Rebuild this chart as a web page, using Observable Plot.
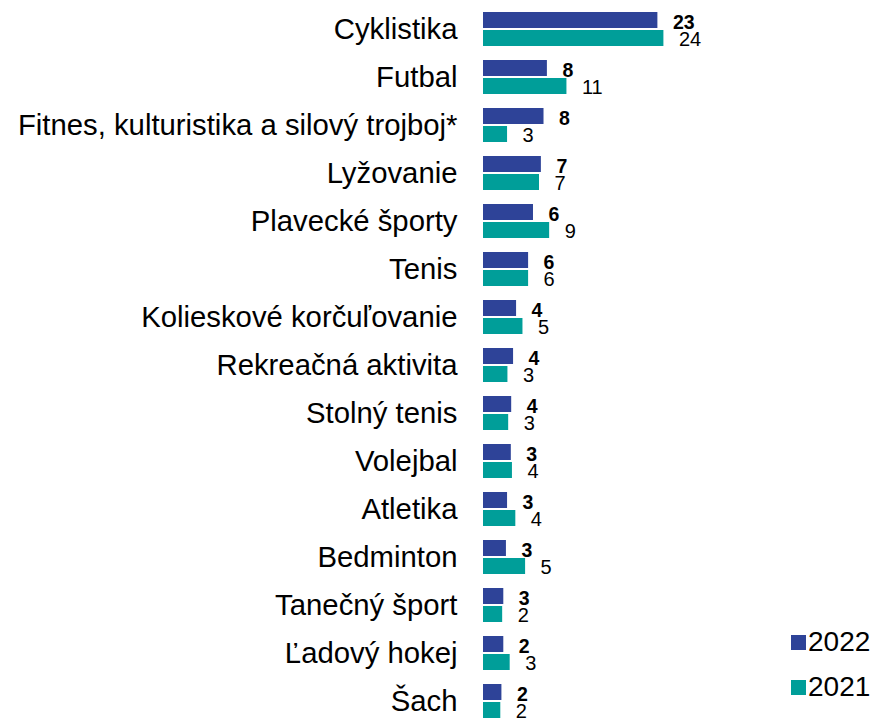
<!DOCTYPE html>
<html>
<head>
<meta charset="utf-8">
<script src="https://cdn.jsdelivr.net/npm/d3@7"></script>
<script src="https://cdn.jsdelivr.net/npm/@observablehq/plot@0.6"></script>
<style>
  html, body { margin: 0; padding: 0; background: #fff; }
  #wrap { position: relative; width: 871px; height: 721px; font-family: "Liberation Sans", Arial, sans-serif; }
  #legend { position: absolute; left: 791px; top: 632px; }
  .li { display: flex; align-items: center; height: 20px; margin-bottom: 25px; font-size: 28px; color: #000; }
  .sw { width: 15px; height: 15px; margin-right: 2px; }
</style>
</head>
<body>
<div id="wrap"><div id="legend"></div></div>
<script>
const categories = ["Cyklistika","Futbal","Fitnes, kulturistika a silový trojboj*","Lyžovanie","Plavecké športy","Tenis","Kolieskové korčuľovanie","Rekreačná aktivita","Stolný tenis","Volejbal","Atletika","Bedminton","Tanečný šport","Ľadový hokej","Šach"];
const series = ["2022","2021"];
const colors = ["#2E4398","#009E99"];
const values2022 = [23.2, 8.5, 8.05, 7.7, 6.65, 6.0, 4.4, 4.0, 3.75, 3.7, 3.2, 3.05, 2.7, 2.7, 2.45];
const values2021 = [24.0, 11.1, 3.2, 7.45, 8.8, 6.0, 5.25, 3.25, 3.35, 3.85, 4.3, 5.6, 2.55, 3.55, 2.3];
const labels2022 = [23, 8, 8, 7, 6, 6, 4, 4, 4, 3, 3, 3, 3, 2, 2];
const labels2021 = [24, 11, 3, 7, 9, 6, 5, 3, 3, 4, 4, 5, 2, 3, 2];

const data = [];
categories.forEach((c, i) => {
  data.push({cat: c, series: "2022", value: values2022[i], label: String(labels2022[i])});
  data.push({cat: c, series: "2021", value: values2021[i], label: String(labels2021[i])});
});

const chart = Plot.plot({
  width: 871,
  height: 721,
  marginLeft: 483,
  marginRight: 207.6,
  marginTop: 10,
  marginBottom: 1,
  style: {fontFamily: "'Liberation Sans', Arial, sans-serif", color: "#000", background: "#fff"},
  x: {domain: [0, 24], axis: null},
  fy: {domain: categories, paddingInner: 0.25, paddingOuter: 0, label: null},
  y: {domain: series, paddingInner: 0.105, paddingOuter: 0, axis: null},
  color: {domain: series, range: colors},
  marks: [
    Plot.axisFy({anchor: "left", tickSize: 0, tickPadding: 26, fontSize: 29.3, label: null}),
    Plot.barX(data, {x: "value", y: "series", fy: "cat", fill: "series"}),
    Plot.text(data.filter(d => d.series === "2022"), {x: "value", y: "series", fy: "cat", text: "label", dx: 15, dy: 2, textAnchor: "start", fontWeight: "bold", fontSize: 19.5, fill: "#000"}),
    Plot.text(data.filter(d => d.series === "2021"), {x: "value", y: "series", fy: "cat", text: "label", dx: 15, dy: 1.5, textAnchor: "start", fontSize: 20, fill: "#000"})
  ]
});
document.getElementById("wrap").prepend(chart);

const legend = document.getElementById("legend");
series.forEach((s, i) => {
  const row = document.createElement("div");
  row.className = "li";
  const sw = document.createElement("span");
  sw.className = "sw";
  sw.style.background = colors[i];
  const t = document.createElement("span");
  t.textContent = s;
  row.append(sw, t);
  legend.append(row);
});
</script>
</body>
</html>
